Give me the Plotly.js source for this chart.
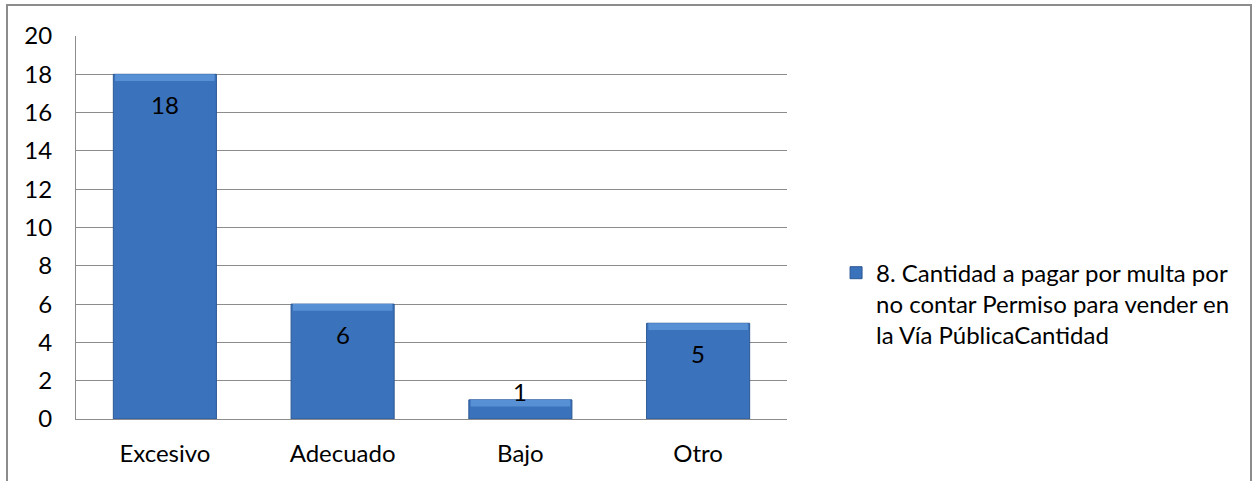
<!DOCTYPE html>
<html>
<head>
<meta charset="utf-8">
<script src="https://cdn.plot.ly/plotly-3.0.1.min.js"></script>
<style>
  html, body { margin: 0; padding: 0; background: #ffffff; }
  #wrap { position: relative; width: 1254px; height: 481px; }
  #chart { position: absolute; left: 0; top: 0; width: 1254px; height: 481px; }
  #frame {
    position: absolute; left: 6px; top: 4px; width: 1246px; height: 490px;
    border: 2px solid #8c8c8c; box-sizing: border-box; pointer-events: none;
  }
</style>
</head>
<body>
<div id="wrap">
  <div id="chart"></div>
  <div id="frame"></div>
</div>
<script>
// Survey answers: amount of the fine for selling on the street without a permit
const categories = ['Excesivo', 'Adecuado', 'Bajo', 'Otro'];
const counts = [18, 6, 1, 5];
const seriesName = '8. Cantidad a pagar por multa por<br>no contar Permiso para vender en<br>la Vía PúblicaCantidad';
const yTicks = [0, 2, 4, 6, 8, 10, 12, 14, 16, 18, 20];

const FONT = 'Lato, "Open Sans", sans-serif';
const FS = 24;
const BEVEL = 0.35; // height of the lighter cap on each bar, in axis units

const bars = {
  type: 'bar',
  x: categories,
  y: counts,
  name: seriesName,
  width: 0.58,
  marker: {
    color: '#3b72bc',
    line: { color: '#2c5894', width: 1 }
  },
  hoverinfo: 'x+y',
  showlegend: true
};

// lighter cap drawn over the top of each bar
const caps = {
  type: 'bar',
  x: categories,
  y: counts.map(v => Math.min(BEVEL, v * 0.35)),
  base: counts.map(v => v - Math.min(BEVEL, v * 0.35)),
  width: 0.56,
  marker: { color: '#5890d6', line: { width: 0 } },
  hoverinfo: 'skip',
  showlegend: false
};

// value labels: just under the top of each bar, or on top when the bar is too short
const labels = categories.map((c, i) => {
  const v = counts[i];
  const tall = v >= 2;
  return {
    x: c, y: v, xref: 'x', yref: 'y',
    text: String(v), showarrow: false,
    yanchor: 'middle',
    yshift: tall ? -30 : 8,
    font: { family: FONT, size: FS, color: '#000000' }
  };
});

const layout = {
  width: 1254, height: 481,
  margin: { l: 76, r: 467, t: 36, b: 62 },
  paper_bgcolor: 'rgba(0,0,0,0)',
  plot_bgcolor: '#ffffff',
  font: { family: FONT, size: FS, color: '#000000' },
  barmode: 'overlay',
  bargap: 0.42,
  xaxis: {
    type: 'category',
    showline: true, linecolor: '#8c8c8c', linewidth: 1,
    showgrid: false, zeroline: false,
    ticks: '', ticklabelstandoff: 13,
    tickfont: { family: FONT, size: FS, color: '#000000' }
  },
  yaxis: {
    range: [0, 20],
    tickvals: yTicks,
    ticktext: yTicks.map(String),
    showline: true, linecolor: '#8c8c8c', linewidth: 1,
    showgrid: true, gridcolor: '#8c8c8c', gridwidth: 1,
    zeroline: false,
    ticks: '', ticklabelstandoff: 18,
    tickfont: { family: FONT, size: FS, color: '#000000' }
  },
  legend: {
    x: 1.069, y: 0.30, xanchor: 'left', yanchor: 'middle',
    valign: 'top',
    font: { family: FONT, size: FS, color: '#000000' },
    itemwidth: 30,
    tracegroupgap: 0
  },
  annotations: labels
};

Plotly.newPlot('chart', [bars, caps], layout, { displayModeBar: false, staticPlot: true });
</script>
</body>
</html>
